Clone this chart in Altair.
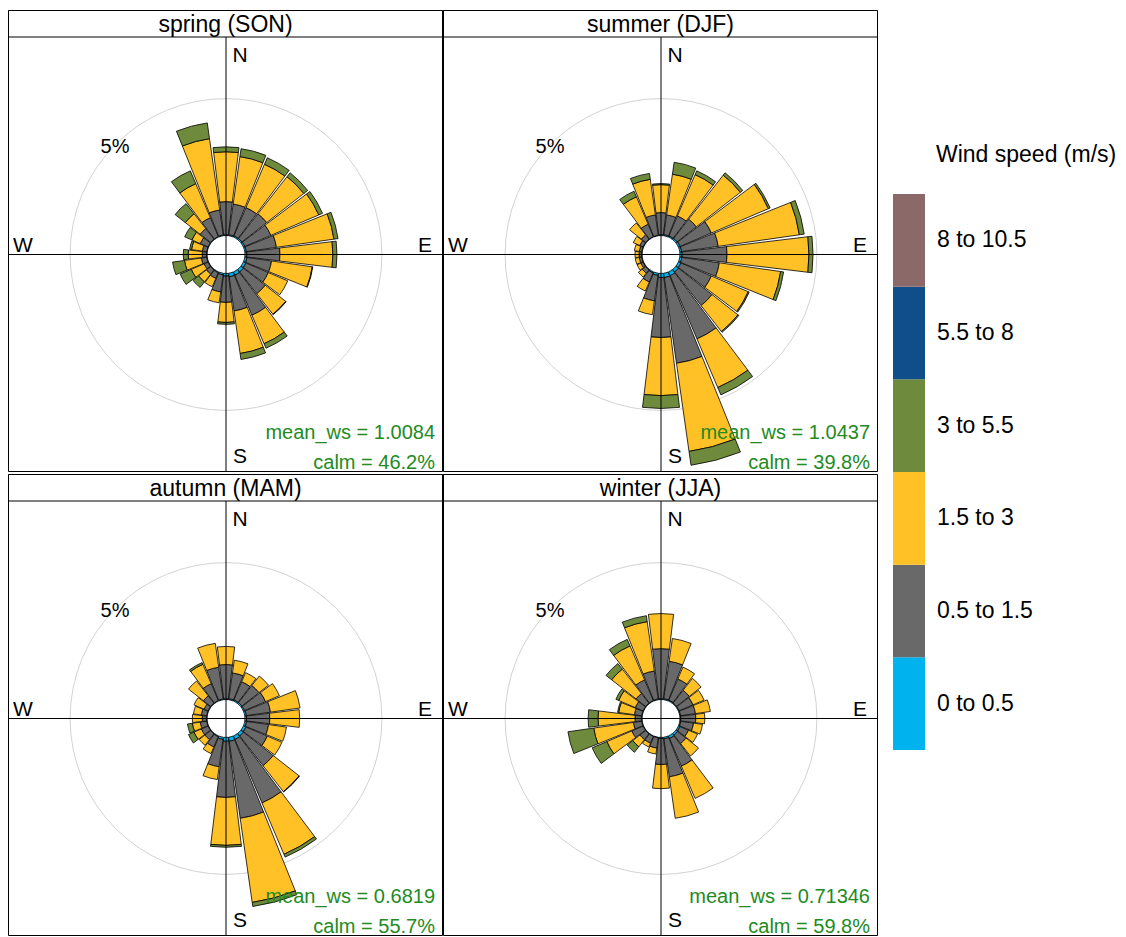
import math
import altair as alt
import pandas as pd

# ---------------- data ----------------
DIRECTIONS = list(range(0, 360, 15))
SPEED_BINS = ["0 to 0.5", "0.5 to 1.5", "1.5 to 3", "3 to 5.5", "5.5 to 8", "8 to 10.5"]
BIN_COLORS = ["#00B2EE", "#696969", "#FFC125", "#6E8B3D", "#104E8B", "#8B6969"]

SEASONS = ["spring (SON)", "summer (DJF)", "autumn (MAM)", "winter (JJA)"]
MEAN_WS = ["1.0084", "1.0437", "0.6819", "0.71346"]
CALM_PCT = ["46.2%", "39.8%", "55.7%", "59.8%"]

# frequency (%) per 15-degree sector, by speed bin (0-0.5, 0.5-1.5, 1.5-3, 3-5.5)
spring_cyan = [0.03, 0.04, 0.05, 0.05, 0.06, 0.06, 0.07, 0.08, 0.10, 0.12, 0.13, 0.13,
               0.10, 0.06, 0.03, 0.02, 0.02, 0.02, 0.02, 0.02, 0.02, 0.02, 0.02, 0.03]
spring_gray = [1.21, 1.13, 1.12, 1.15, 1.03, 1.11, 1.21, 0.91, 0.89, 1.01, 1.59, 1.26,
               0.96, 0.63, 0.23, 0.20, 0.16, 0.20, 0.16, 0.16, 0.31, 0.49, 0.75, 0.92]
spring_yellow = [1.82, 1.75, 1.72, 1.72, 1.90, 2.12, 1.93, 1.50, 0.77, 0.95, 1.13, 1.57,
                 0.73, 0.40, 0.33, 0.36, 0.51, 0.62, 0.51, 0.40, 0.33, 0.69, 1.35, 2.63]
spring_green = [0.18, 0.29, 0.26, 0.18, 0.15, 0.15, 0.15, 0.02, 0.0, 0.02, 0.18, 0.22,
                0.07, 0.0, 0.0, 0.26, 0.44, 0.44, 0.18, 0.07, 0.29, 0.47, 0.51, 0.58]

summer_cyan = [0.03, 0.04, 0.05, 0.06, 0.07, 0.07, 0.08, 0.08, 0.10, 0.12, 0.15, 0.16,
               0.15, 0.08, 0.04, 0.02, 0.02, 0.02, 0.02, 0.02, 0.02, 0.02, 0.02, 0.02]
summer_gray = [0.81, 0.73, 0.79, 0.89, 1.24, 1.35, 1.64, 1.38, 1.21, 1.56, 2.51, 3.16,
               2.19, 0.94, 0.36, 0.16, 0.09, 0.09, 0.09, 0.09, 0.13, 0.20, 0.49, 0.75]
summer_yellow = [1.02, 1.50, 1.64, 2.04, 2.26, 2.99, 2.99, 2.26, 1.46, 1.20, 1.93, 3.25,
                 2.12, 0.51, 0.36, 0.18, 0.15, 0.15, 0.15, 0.18, 0.26, 0.55, 1.09, 1.31]
summer_green = [0.04, 0.44, 0.15, 0.11, 0.07, 0.18, 0.15, 0.11, 0.04, 0.04, 0.29, 0.51,
                0.47, 0.0, 0.0, 0.0, 0.0, 0.0, 0.0, 0.0, 0.0, 0.0, 0.22, 0.22]

autumn_cyan = [0.03, 0.04, 0.05, 0.05, 0.05, 0.06, 0.06, 0.07, 0.10, 0.12, 0.14, 0.15,
               0.14, 0.08, 0.03, 0.02, 0.02, 0.02, 0.02, 0.02, 0.02, 0.02, 0.02, 0.03]
autumn_gray = [1.25, 0.95, 0.72, 0.79, 0.83, 0.89, 0.85, 0.81, 0.85, 1.38, 2.52, 2.84,
               2.05, 1.01, 0.41, 0.27, 0.27, 0.24, 0.16, 0.20, 0.16, 0.34, 0.67, 1.17]
autumn_yellow = [0.66, 0.47, 0.36, 0.44, 0.55, 1.09, 1.09, 0.66, 0.58, 1.20, 2.04, 3.10,
                 1.75, 0.47, 0.26, 0.26, 0.29, 0.29, 0.36, 0.29, 0.40, 0.69, 0.77, 0.88]
autumn_green = [0.0, 0.0, 0.0, 0.0, 0.0, 0.0, 0.0, 0.0, 0.0, 0.02, 0.11, 0.15,
                0.07, 0.0, 0.0, 0.0, 0.22, 0.18, 0.0, 0.0, 0.0, 0.0, 0.07, 0.0]

winter_cyan = [0.03, 0.04, 0.04, 0.03, 0.03, 0.03, 0.03, 0.04, 0.06, 0.08, 0.10, 0.06,
               0.04, 0.02, 0.02, 0.02, 0.02, 0.02, 0.02, 0.02, 0.02, 0.02, 0.02, 0.03]
winter_gray = [1.83, 1.38, 0.84, 0.59, 0.55, 0.55, 0.55, 0.47, 0.34, 0.39, 1.10, 1.40,
               0.95, 0.38, 0.27, 0.27, 0.45, 0.31, 0.24, 0.27, 0.31, 0.45, 0.82, 1.03]
winter_yellow = [1.28, 0.84, 0.47, 0.55, 0.44, 0.55, 0.33, 0.33, 0.36, 0.58, 1.28, 1.53,
                 0.88, 0.22, 0.15, 0.33, 0.99, 1.46, 1.35, 0.58, 0.66, 1.13, 1.35, 1.82]
winter_green = [0.0, 0.0, 0.0, 0.0, 0.0, 0.0, 0.0, 0.0, 0.0, 0.0, 0.0, 0.0,
                0.0, 0.0, 0.0, 0.26, 0.58, 0.95, 0.36, 0.04, 0.11, 0.26, 0.26, 0.22]

FREQ = {
    SEASONS[0]: [spring_cyan, spring_gray, spring_yellow, spring_green],
    SEASONS[1]: [summer_cyan, summer_gray, summer_yellow, summer_green],
    SEASONS[2]: [autumn_cyan, autumn_gray, autumn_yellow, autumn_green],
    SEASONS[3]: [winter_cyan, winter_gray, winter_yellow, winter_green],
}

OFFSET = 0.69      # inner hole, in % units
GRID_PCT = 5       # labelled grid circle
HALF_WIDTH = 6.9   # half-width of a sector wedge in degrees

rows = []
for season, bins in FREQ.items():
    for j, d in enumerate(DIRECTIONS):
        cum = OFFSET
        for b, vals in enumerate(bins):
            v = vals[j]
            if v <= 0:
                continue
            rows.append(dict(season=season, dir=d, bin=SPEED_BINS[b],
                             t0=d - HALF_WIDTH, t1=d + HALF_WIDTH, r0=cum, r1=cum + v))
            cum += v
bars_df = pd.DataFrame(rows)

# ---------------- layout ----------------
W, H, STRIP = 435, 462, 27
CX, CY = 218, 244.5
FONT = "Liberation Sans"

theta_scale = alt.Scale(domain=[0, 360], range=[0, 2 * math.pi])
r_scale = alt.Scale(type="linear", domain=[0, 10], range=[0, 274])
color_scale = alt.Scale(domain=SPEED_BINS, range=BIN_COLORS)
dummy = pd.DataFrame({"a": [0]})


def text_layer(txt, x, y, size=20, color="black", align="center"):
    return alt.Chart(dummy).mark_text(
        text=txt, fontSize=size, font=FONT, color=color, align=align, baseline="middle"
    ).encode(x=alt.value(x), y=alt.value(y))


def make_panel(i):
    season = SEASONS[i]
    frame = alt.Chart(dummy).mark_rect(fill="white", stroke="black", strokeWidth=1).encode(
        x=alt.value(0.5), x2=alt.value(W - 0.5), y=alt.value(0.5), y2=alt.value(H - 0.5))
    strip = alt.Chart(dummy).mark_rect(fill="white", stroke="black", strokeWidth=1).encode(
        x=alt.value(0.5), x2=alt.value(W - 0.5), y=alt.value(0.5), y2=alt.value(STRIP))
    title = text_layer(season, W / 2, STRIP / 2 + 1, size=23)
    grid = alt.Chart(pd.DataFrame({"r": [OFFSET + GRID_PCT]})).mark_arc(
        fill="white", fillOpacity=0, stroke="#d3d3d3", strokeWidth=1,
        theta=0, theta2=2 * math.pi,
    ).encode(
        x=alt.value(CX), y=alt.value(CY),
        radius=alt.Radius("r:Q", scale=r_scale, stack=False),
    )
    bars = alt.Chart(bars_df).transform_filter(alt.datum.season == season).mark_arc(
        stroke="black", strokeWidth=0.8
    ).encode(
        x=alt.value(CX), y=alt.value(CY),
        theta=alt.Theta("t0:Q", scale=theta_scale, stack=False),
        theta2="t1:Q",
        radius=alt.Radius("r1:Q", scale=r_scale, stack=False),
        radius2="r0:Q",
        color=alt.Color("bin:N", scale=color_scale, legend=None),
    )
    vline = alt.Chart(dummy).mark_rule(color="black", strokeWidth=1).encode(
        x=alt.value(CX), y=alt.value(STRIP), y2=alt.value(H - 1))
    hline = alt.Chart(dummy).mark_rule(color="black", strokeWidth=1).encode(
        x=alt.value(1), x2=alt.value(W - 1), y=alt.value(CY))
    labels = [
        text_layer("N", CX + 14, 46, size=21),
        text_layer("S", CX + 14, 447, size=21),
        text_layer("W", 15, 236, size=21),
        text_layer("E", 417, 236, size=21),
        text_layer(f"{GRID_PCT}%", 107, 137, size=20),
        text_layer(f"mean_ws = {MEAN_WS[i]}", 427, 423, color="#228B22", align="right"),
        text_layer(f"calm = {CALM_PCT[i]}", 427, 453, color="#228B22", align="right"),
    ]
    return alt.layer(frame, grid, bars, vline, hline, strip, title, *labels).properties(
        width=W, height=H)


# ---------------- legend ----------------
leg_df = pd.DataFrame({"bin": SPEED_BINS, "lo": list(range(6)), "hi": list(range(1, 7))})
leg_df["mid"] = leg_df["lo"] + 0.5
ys = alt.Scale(domain=[0, 6], range=[740, 184])
leg_rects = alt.Chart(leg_df).mark_rect().encode(
    x=alt.value(15), x2=alt.value(47),
    y=alt.Y("lo:Q", scale=ys, axis=None), y2="hi:Q",
    color=alt.Color("bin:N", scale=color_scale, legend=None),
)
leg_labels = alt.Chart(leg_df).mark_text(
    align="left", baseline="middle", fontSize=23, font=FONT, color="black"
).encode(x=alt.value(59), y=alt.Y("mid:Q", scale=ys, axis=None), text="bin:N")
leg_title = text_layer("Wind speed (m/s)", 58, 145, size=23, align="left")
legend = alt.layer(leg_rects, leg_labels, leg_title).properties(width=240, height=2 * H)

top = alt.hconcat(make_panel(0), make_panel(1), spacing=0)
bottom = alt.hconcat(make_panel(2), make_panel(3), spacing=0)
panels = alt.vconcat(top, bottom, spacing=1)
chart = alt.hconcat(panels, legend, spacing=0).properties(
    padding={"left": 8, "top": 10, "right": 0, "bottom": 0},
    background="white",
).configure_view(strokeWidth=0)

chart.save("out.html", embed_options={"renderer": "svg", "actions": False})
